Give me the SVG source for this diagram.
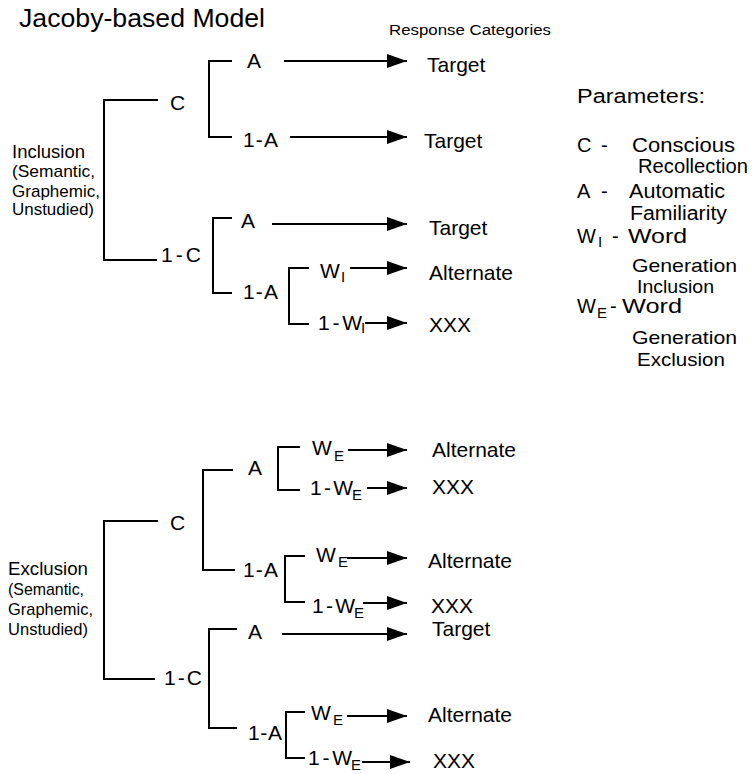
<svg xmlns="http://www.w3.org/2000/svg" width="752" height="774" viewBox="0 0 752 774">
<style>
text{font-family:"Liberation Sans",Arial,sans-serif;fill:#000}
.t{font-size:25px}
.h{font-size:15.5px}
.lbl{font-size:21px}
.sub{font-size:15px}
.resp{font-size:21px}
.side{font-size:17px}
.side1{font-size:18px}
.par{font-size:20px}
.par2{font-size:19px}
.br{fill:none;stroke:#000;stroke-width:2}
.ar{fill:none;stroke:#000;stroke-width:2;marker-end:url(#ah)}
</style>
<defs>
<marker id="ah" markerUnits="userSpaceOnUse" markerWidth="20" markerHeight="14" refX="20" refY="7" orient="auto">
<path d="M0,0 L20,7 L0,14 Z" fill="#000"/>
</marker>
</defs>
<rect width="752" height="774" fill="#fff"/>
<text class="t" x="19" y="27" textLength="246" lengthAdjust="spacingAndGlyphs">Jacoby-based Model</text>
<text class="h" x="389" y="35" textLength="162" lengthAdjust="spacingAndGlyphs">Response Categories</text>

<g id="inclusion">
<text class="side1" x="12" y="158" textLength="73" lengthAdjust="spacingAndGlyphs">Inclusion</text>
<text class="side" x="12" y="177" textLength="83" lengthAdjust="spacingAndGlyphs">(Semantic,</text>
<text class="side" x="12" y="197" textLength="88" lengthAdjust="spacingAndGlyphs">Graphemic,</text>
<text class="side" x="12" y="215" textLength="82" lengthAdjust="spacingAndGlyphs">Unstudied)</text>
</g>
<g id="exclusion">
<text class="side1" x="8" y="575" textLength="80" lengthAdjust="spacingAndGlyphs">Exclusion</text>
<text class="side" x="8" y="595" textLength="76" lengthAdjust="spacingAndGlyphs">(Semantic,</text>
<text class="side" x="8" y="615" textLength="85" lengthAdjust="spacingAndGlyphs">Graphemic,</text>
<text class="side" x="8" y="635" textLength="80" lengthAdjust="spacingAndGlyphs">Unstudied)</text>
</g>

<g id="parameters">
<text class="par" x="577" y="103" textLength="128" lengthAdjust="spacingAndGlyphs">Parameters:</text>
<text class="par" x="577" y="152">C</text><text class="par" x="601" y="152">-</text>
<text class="par" x="632" y="152" textLength="103" lengthAdjust="spacingAndGlyphs">Conscious</text>
<text class="par" x="638" y="173" textLength="110" lengthAdjust="spacingAndGlyphs">Recollection</text>
<text class="par" x="577" y="198">A</text><text class="par" x="601" y="198">-</text>
<text class="par" x="629" y="198" textLength="96" lengthAdjust="spacingAndGlyphs">Automatic</text>
<text class="par" x="630" y="220" textLength="97" lengthAdjust="spacingAndGlyphs">Familiarity</text>
<text class="par" x="577" y="243">W</text><text class="sub" x="598" y="247">I</text><text class="par" x="612" y="243">-</text>
<text class="par" x="628" y="243" textLength="59" lengthAdjust="spacingAndGlyphs">Word</text>
<text class="par2" x="632" y="272" textLength="105" lengthAdjust="spacingAndGlyphs">Generation</text>
<text class="par2" x="637" y="293" textLength="77" lengthAdjust="spacingAndGlyphs">Inclusion</text>
<text class="par" x="577" y="313">W</text><text class="sub" x="597" y="318">E</text><text class="par" x="610" y="313">-</text>
<text class="par" x="622" y="313" textLength="60" lengthAdjust="spacingAndGlyphs">Word</text>
<text class="par2" x="632" y="344" textLength="105" lengthAdjust="spacingAndGlyphs">Generation</text>
<text class="par2" x="637" y="366" textLength="88" lengthAdjust="spacingAndGlyphs">Exclusion</text>
</g>

<g id="connectors">
<path class="br" d="M158,100 H104 V260 H157"/>
<path class="br" d="M232,61 H209 V137 H232"/>
<path class="br" d="M232,218 H213 V293 H232"/>
<path class="br" d="M309,268 H289 V324 H309"/>
<path class="br" d="M158,521 H104 V679 H155"/>
<path class="br" d="M233,470 H203 V570 H235"/>
<path class="br" d="M300,447 H278 V490 H300"/>
<path class="br" d="M305,556 H285 V602 H305"/>
<path class="br" d="M237,629 H209 V728 H237"/>
<path class="br" d="M305,712 H286 V758 H305"/>
<line class="ar" x1="284" y1="61" x2="407" y2="61"/>
<line class="ar" x1="290" y1="137" x2="407" y2="137"/>
<line class="ar" x1="272" y1="224" x2="407" y2="224"/>
<line class="ar" x1="350" y1="268" x2="407" y2="268"/>
<line class="ar" x1="365" y1="323" x2="407" y2="323"/>
<line class="ar" x1="348" y1="450" x2="407" y2="450"/>
<line class="ar" x1="367" y1="488" x2="407" y2="488"/>
<line class="ar" x1="347" y1="558" x2="407" y2="558"/>
<line class="ar" x1="363" y1="603" x2="407" y2="603"/>
<line class="ar" x1="282" y1="634" x2="407" y2="634"/>
<line class="ar" x1="347" y1="716" x2="407" y2="716"/>
<line class="ar" x1="362" y1="762" x2="410" y2="762"/>
</g>

<g id="incl-tree">
<text class="lbl" x="170" y="110">C</text>
<text class="lbl" x="161" y="262" textLength="40">1-C</text>
<text class="lbl" x="247" y="68">A</text>
<text class="lbl" x="243" y="147" textLength="35">1-A</text>
<text class="lbl" x="241" y="228">A</text>
<text class="lbl" x="243" y="299" textLength="35">1-A</text>
<text class="lbl" x="320" y="278">W</text><text class="sub" x="341" y="282">I</text>
<text class="lbl" x="318" y="330" textLength="44">1-W</text><text class="sub" x="361" y="333">I</text>
</g>
<g id="excl-tree">
<text class="lbl" x="170" y="530">C</text>
<text class="lbl" x="164" y="685" textLength="38">1-C</text>
<text class="lbl" x="248" y="475">A</text>
<text class="lbl" x="243" y="577" textLength="35">1-A</text>
<text class="lbl" x="248" y="639">A</text>
<text class="lbl" x="248" y="740" textLength="34">1-A</text>
<text class="lbl" x="312" y="455">W</text><text class="sub" x="334" y="461">E</text>
<text class="lbl" x="310" y="495" textLength="43">1-W</text><text class="sub" x="352" y="500">E</text>
<text class="lbl" x="316" y="562">W</text><text class="sub" x="338" y="567">E</text>
<text class="lbl" x="312" y="613" textLength="43">1-W</text><text class="sub" x="354" y="618">E</text>
<text class="lbl" x="311" y="720">W</text><text class="sub" x="333" y="725">E</text>
<text class="lbl" x="308" y="765" textLength="44">1-W</text><text class="sub" x="351" y="770">E</text>
</g>

<g id="responses">
<text class="resp" x="427" y="72">Target</text>
<text class="resp" x="424" y="148">Target</text>
<text class="resp" x="429" y="235">Target</text>
<text class="resp" x="429" y="280">Alternate</text>
<text class="resp" x="429" y="332">XXX</text>
<text class="resp" x="432" y="457">Alternate</text>
<text class="resp" x="432" y="494">XXX</text>
<text class="resp" x="428" y="568">Alternate</text>
<text class="resp" x="431" y="613">XXX</text>
<text class="resp" x="432" y="636">Target</text>
<text class="resp" x="428" y="722">Alternate</text>
<text class="resp" x="433" y="768">XXX</text>
</g>
</svg>
